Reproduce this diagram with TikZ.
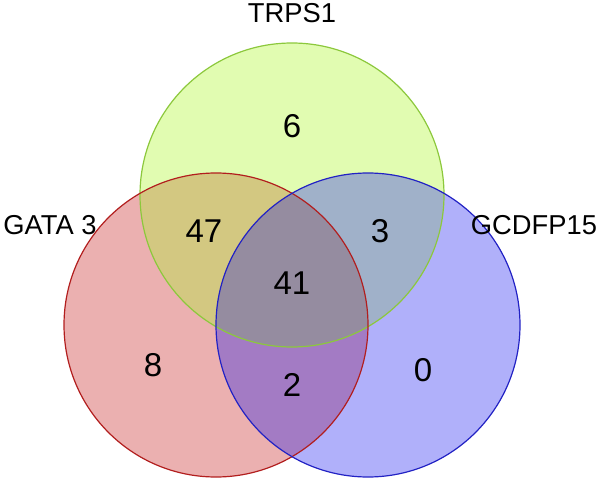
\documentclass[tikz,border=0pt]{standalone}
\usepackage{fontspec}
\setmainfont{Liberation Sans}
\usepackage{xcolor}
\definecolor{trpsfill}{HTML}{E1FCB1}
\definecolor{gatafill}{HTML}{EBB0B0}
\definecolor{gcdfill}{HTML}{B0B0FA}
\definecolor{tgfill}{HTML}{D3C881}
\definecolor{tcfill}{HTML}{A0B1C9}
\definecolor{gcfill}{HTML}{A37BC4}
\definecolor{allfill}{HTML}{958CA0}
\definecolor{trpsline}{HTML}{8CC83C}
\definecolor{gataline}{HTML}{B21E1E}
\definecolor{gcdline}{HTML}{2222C4}

\begin{document}
\begin{tikzpicture}[x=0.75pt,y=0.75pt,
    setname/.style={font=\fontsize{20.5}{24}\selectfont,inner sep=0},
    count/.style={font=\fontsize{24.75}{28}\selectfont,inner sep=0},
    rim/.style={line width=0.9pt}]
    \message{Venn diagram^^J}
    \useasboundingbox (0,0) rectangle (600,483);
    \def\rad{152}

    \coordinate (T) at (292,288);
    \coordinate (G) at (216,158);
    \coordinate (C) at (368,158);

    \fill[gatafill] (G) circle (\rad);
    \fill[gcdfill] (C) circle (\rad);
    \fill[trpsfill] (T) circle (\rad);

    \begin{scope}
        \clip (T) circle (\rad);
        \fill[tgfill] (G) circle (\rad);
        \fill[tcfill] (C) circle (\rad);
    \end{scope}
    \begin{scope}
        \clip (G) circle (\rad);
        \fill[gcfill] (C) circle (\rad);
        \clip (C) circle (\rad);
        \fill[allfill] (T) circle (\rad);
    \end{scope}

    \draw[rim,trpsline] (T) circle (\rad);
    \draw[rim,gataline] (G) circle (\rad);
    \draw[rim,gcdline] (C) circle (\rad);

    \node[setname] (trps) at (292,470) {TRPS1};
    \node[setname] (gata) at (50,258) {GATA 3};
    \node[setname] (gcd) at (534,258) {GCDFP15};

    \node[count] (nT) at (292,357) {6};
    \node[count] (nTG) at (204,252) {47};
    \node[count] (nTC) at (380,252) {3};
    \node[count] (nTGC) at (292,200) {41};
    \node[count] (nG) at (153,118) {8};
    \node[count] (nGC) at (292,98) {2};
    \node[count] (nC) at (423,113) {0};

    \end{tikzpicture}
\end{document}
